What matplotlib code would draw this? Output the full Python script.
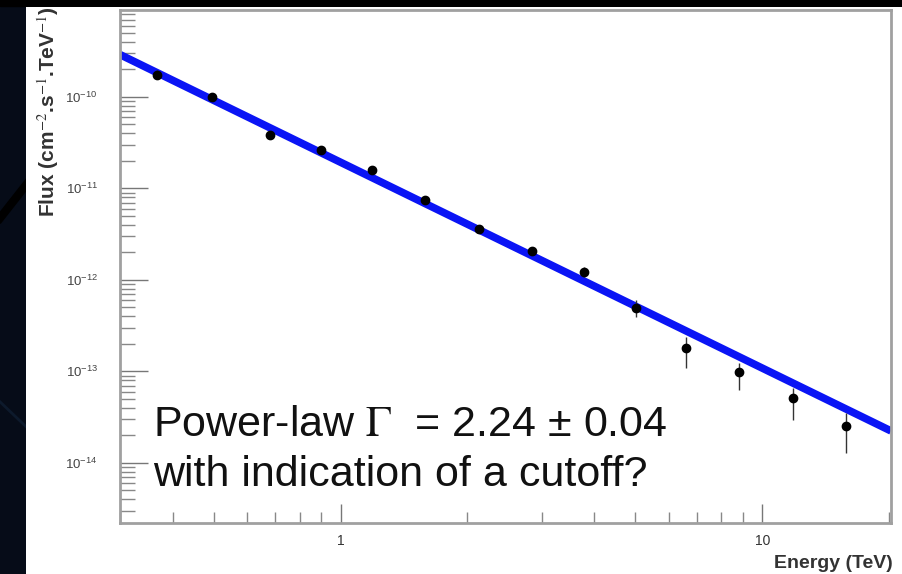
import numpy as np
import matplotlib
matplotlib.use("Agg")
import matplotlib.pyplot as plt
from matplotlib.patches import Rectangle
from matplotlib.ticker import LogLocator, FixedLocator, FixedFormatter, NullFormatter

plt.rcParams['font.family'] = ['Liberation Sans', 'DejaVu Sans']
plt.rcParams['mathtext.fontset'] = 'stix'
plt.rcParams['axes.unicode_minus'] = False

# spectrum points
energy = [0.367, 0.497, 0.681, 0.90, 1.19, 1.585, 2.13, 2.85, 3.77, 5.02, 6.59, 8.83, 11.8, 15.8]
flux = [1.74e-10, 1.0e-10, 3.85e-11, 2.63e-11, 1.59e-11, 7.5e-12, 3.6e-12, 2.07e-12,
        1.22e-12, 4.94e-13, 1.81e-13, 9.9e-14, 5.13e-14, 2.53e-14]
flux_hi = [1.95e-10, 1.09e-10, 4.25e-11, 2.85e-11, 1.72e-11, 8.1e-12, 3.95e-12, 2.3e-12,
           1.38e-12, 6.05e-13, 2.38e-13, 1.24e-13, 6.6e-14, 3.52e-14]
flux_lo = [1.55e-10, 0.92e-10, 3.45e-11, 2.42e-11, 1.46e-11, 6.9e-12, 3.25e-12, 1.85e-12,
           1.07e-12, 3.94e-13, 1.09e-13, 6.28e-14, 2.95e-14, 1.28e-14]

# power-law fit
norm0 = 1.93e-11
gamma = 2.25
e_range = [0.3, 20.2]

y_ticks = [1e-14, 1e-13, 1e-12, 1e-11, 1e-10]
y_ticklabels = [r'$\mathdefault{10^{-14}}$', r'$\mathdefault{10^{-13}}$', r'$\mathdefault{10^{-12}}$',
                r'$\mathdefault{10^{-11}}$', r'$\mathdefault{10^{-10}}$']

fig = plt.figure(figsize=(9.02, 5.74), dpi=100)
fig.patch.set_facecolor('#060c18')
# slide background bits
fig.add_artist(Rectangle((0, 0.99), 1, 0.01, transform=fig.transFigure, color='#000000', zorder=0))
xs = np.linspace(0, 0.03, 20)
fig.add_artist(plt.Line2D(xs, 0.62 + 2.0 * xs, transform=fig.transFigure, color='#000000', lw=6, zorder=0))
fig.add_artist(plt.Line2D(xs, 0.30 - 1.5 * xs, transform=fig.transFigure, color='#0d1a2c', lw=2, zorder=0))
# white panel
fig.add_artist(Rectangle((26 / 902, 0), 1 - 26 / 902, 1 - 7 / 574, transform=fig.transFigure,
                         facecolor='white', edgecolor='none', zorder=0))

ax = fig.add_axes([120 / 902, 1 - 523 / 574, 771 / 902, 513 / 574])
ax.set_facecolor('white')
ax.set_xscale('log')
ax.set_yscale('log')
ax.set_xlim(e_range)
ax.set_ylim(2.2e-15, 8.9e-10)

e = np.array(energy)
f = np.array(flux)
yerr = [f - np.array(flux_lo), np.array(flux_hi) - f]
ax.errorbar(e, f, yerr=yerr, fmt='o', color='black', ecolor='#333333', ms=6, elinewidth=1.0,
            capsize=0, zorder=3)

ee = np.logspace(np.log10(e_range[0]), np.log10(e_range[1]), 100)
ax.plot(ee, norm0 * ee ** (-gamma), color='#0a14f5', lw=5.5, zorder=2, solid_capstyle='butt')

for s in ax.spines.values():
    s.set_color('#a0a0a0')
    s.set_linewidth(2)

ax.xaxis.set_major_locator(FixedLocator([1, 10]))
ax.xaxis.set_major_formatter(FixedFormatter(['1', '10']))
ax.xaxis.set_minor_locator(LogLocator(base=10, subs=np.arange(2, 10)))
ax.xaxis.set_minor_formatter(NullFormatter())
ax.yaxis.set_major_locator(FixedLocator(y_ticks))
ax.yaxis.set_major_formatter(FixedFormatter(y_ticklabels))
ax.yaxis.set_minor_locator(LogLocator(base=10, subs=np.arange(2, 10), numticks=20))
ax.yaxis.set_minor_formatter(NullFormatter())

ax.tick_params(axis='x', which='major', direction='in', length=14, width=1, color='#777777',
               labelsize=10, labelcolor='#333333', pad=8, top=False)
ax.tick_params(axis='x', which='minor', direction='in', length=8, width=1, color='#888888', top=False)
ax.tick_params(axis='y', which='major', direction='in', length=20, width=1, color='#777777',
               labelsize=9.5, labelcolor='#444444', pad=16, right=False)
ax.tick_params(axis='y', which='minor', direction='in', length=11, width=1, color='#888888', right=False)

fig.text(893 / 902, 1 - 568 / 574, 'Energy (TeV)', ha='right', va='baseline', fontsize=14,
         fontweight='bold', color='#333333')
fig.text(48 / 902, 1 - 6 / 574, r'Flux (cm$^{-2}$.s$^{-1}$.TeV$^{-1}$)', ha='center', va='top',
         rotation=90, fontsize=15, fontweight='bold', color='#333333')

ax.text(0.043, 0.1696, r'Power-law $\Gamma$  = 2.24 ± 0.04', transform=ax.transAxes,
        fontsize=31, color='#111111', va='baseline', ha='left')
ax.text(0.043, 0.072, 'with indication of a cutoff?', transform=ax.transAxes,
        fontsize=31, color='#111111', va='baseline', ha='left')

fig.savefig('out.png', dpi=100, facecolor=fig.get_facecolor())
